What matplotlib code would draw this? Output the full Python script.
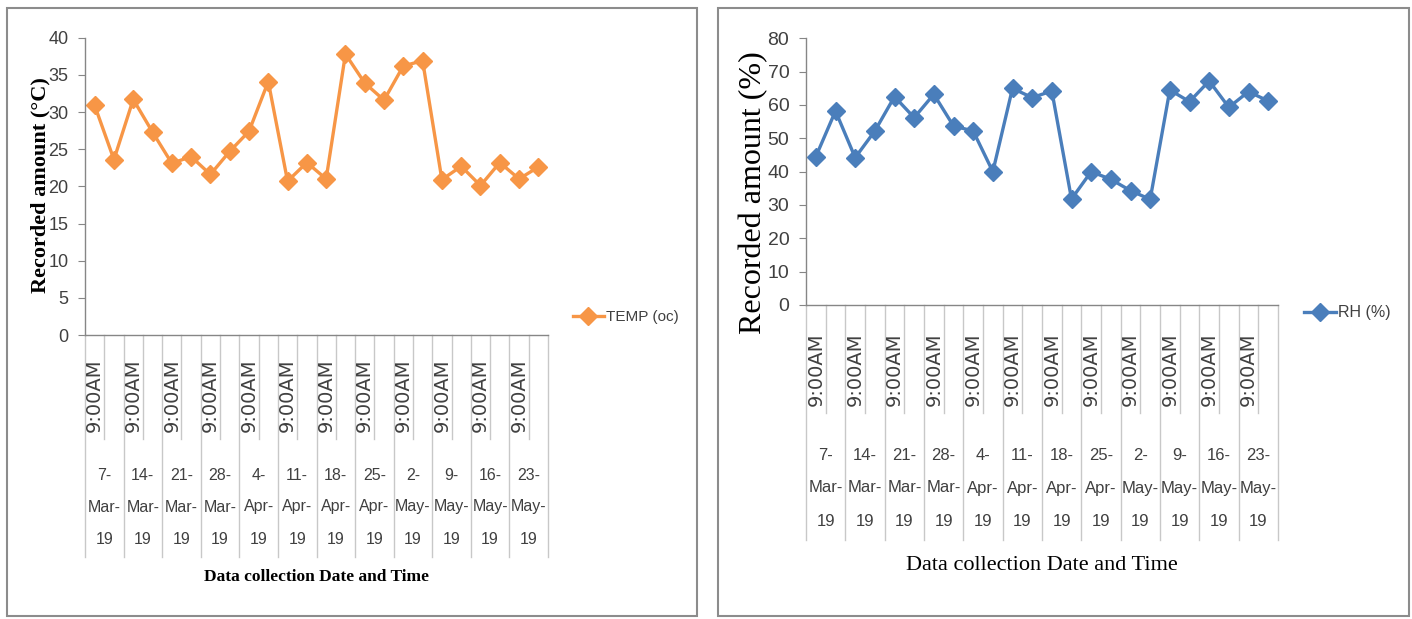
import matplotlib
matplotlib.use("Agg")
import matplotlib.pyplot as plt
from matplotlib.transforms import blended_transform_factory
from matplotlib.patches import Rectangle

# ---- data ----
dates = ["7-Mar-19", "14-Mar-19", "21-Mar-19", "28-Mar-19", "4-Apr-19", "11-Apr-19",
         "18-Apr-19", "25-Apr-19", "2-May-19", "9-May-19", "16-May-19", "23-May-19"]
time_label = "9:00AM"
temp = [30.9, 23.6, 31.7, 27.3, 23.1, 24.0, 21.6, 24.7, 27.4, 34.1, 20.7, 23.2,
        21.0, 37.8, 33.9, 31.6, 36.2, 36.9, 20.9, 22.7, 20.1, 23.2, 21.0, 22.6]
rh = [44.5, 58.2, 44.2, 52.2, 62.5, 56.2, 63.2, 53.7, 52.2, 40.0, 65.0, 62.2,
      64.2, 31.8, 40.0, 37.7, 34.3, 31.7, 64.5, 61.0, 67.2, 59.3, 64.0, 61.2]

W, H = 1412, 619
def fx(p): return p / W
def fy(p): return 1 - p / H

TICKFONT = ["Liberation Sans", "DejaVu Sans"]
SERIF = ["Liberation Serif", "DejaVu Serif"]
GRAY = "#404040"
AXC = "#868686"

fig = plt.figure(figsize=(W / 100, H / 100), dpi=100)
fig.patch.set_facecolor("white")

# panel borders
for (x0, y0, x1, y1) in [(7, 8, 697, 616), (718, 8, 1409, 616)]:
    fig.patches.append(Rectangle((fx(x0), fy(y1)), fx(x1) - fx(x0), fy(y0) - fy(y1),
                                 transform=fig.transFigure, fill=False,
                                 edgecolor="#8c8c8c", linewidth=1.5))


def make_panel(rect_px, values, ymax, ystep, color, label, ylabel, ylab_kw, xlab_kw,
               tick_fs, date_fs, time_rows, date_rows, legend_pos, legend_fs,
               ylab_xy, xlab_xy):
    l, r, t, b = rect_px
    ax = fig.add_axes([fx(l), fy(b), fx(r) - fx(l), fy(t) - fy(b)])
    n = len(values)
    xs = [i + 0.5 for i in range(n)]
    ax.plot(xs, values, color=color, linewidth=2.4, marker="D", markersize=9.5,
            markeredgecolor=color, markerfacecolor=color, label=label)
    ax.set_xlim(0, n)
    ax.set_ylim(0, ymax)
    ax.set_yticks(range(0, ymax + 1, ystep))
    ax.set_xticks([])
    for s in ["top", "right"]:
        ax.spines[s].set_visible(False)
    for s in ["left", "bottom"]:
        ax.spines[s].set_color(AXC)
        ax.spines[s].set_linewidth(1.0)
    ax.tick_params(axis="y", direction="out", length=5, color=AXC, pad=7,
                   labelsize=tick_fs, labelcolor=GRAY)
    for lab in ax.get_yticklabels():
        lab.set_family(TICKFONT)

    tr = blended_transform_factory(ax.transData, fig.transFigure)
    # separators
    t_top, t_bot = time_rows
    d_bot = date_rows[-1] + 18
    for k in range(n + 1):
        ybot = d_bot if k % 2 == 0 else t_bot
        ax.plot([k, k], [fy(b), fy(ybot)], transform=tr, clip_on=False,
                color="#c8c8c8", linewidth=1.0)
    # time labels
    for g in range(len(dates)):
        ax.text(2 * g + 0.5, fy((t_top + t_bot) / 2), time_label, transform=tr,
                rotation=90, ha="center", va="center", fontsize=14,
                family="DejaVu Sans", color=GRAY)
    # date labels
    for g, d in enumerate(dates):
        parts = d.split("-")
        lines = [parts[0] + "-", parts[1] + "-", parts[2]]
        for yy, txt in zip(date_rows, lines):
            ax.text(2 * g + 1, fy(yy), txt, transform=tr, ha="center", va="center",
                    fontsize=date_fs, family=TICKFONT, color=GRAY)

    fig.text(fx(ylab_xy[0]), fy(ylab_xy[1]), ylabel,
             rotation=90, ha="center", va="center", family=SERIF, **ylab_kw)
    fig.text(fx(xlab_xy[0]), fy(xlab_xy[1]), "Data collection Date and Time",
             ha="center", va="center", family=SERIF, **xlab_kw)

    ax.legend(loc="center left", bbox_to_anchor=(fx(legend_pos[0]), fy(legend_pos[1])),
              bbox_transform=fig.transFigure, frameon=False, handlelength=2.0,
              handletextpad=0.15, borderpad=0, borderaxespad=0,
              prop={"family": TICKFONT, "size": legend_fs}, labelcolor=GRAY)
    return ax


make_panel((85, 548, 37.7, 335), temp, 40, 5, "#F79646", "TEMP (oc)",
           "Recorded amount (\u00b0C)",
           dict(fontsize=16, fontweight="bold", color="black"),
           dict(fontsize=12.5, fontweight="bold", color="black"),
           13, 11.5, (352, 439), (475, 507, 539), (573, 317), 11, (40, 185), (317, 577))

make_panel((806, 1278, 38.3, 305), rh, 80, 10, "#4A7EBB", "RH (%)",
           "Recorded amount (%)",
           dict(fontsize=23, color="black"),
           dict(fontsize=16, color="black"),
           14, 12, (325, 413), (455, 488, 522), (1304, 313), 11.5, (754, 193), (1042, 565))

fig.savefig("out.png", dpi=100, facecolor="white")
